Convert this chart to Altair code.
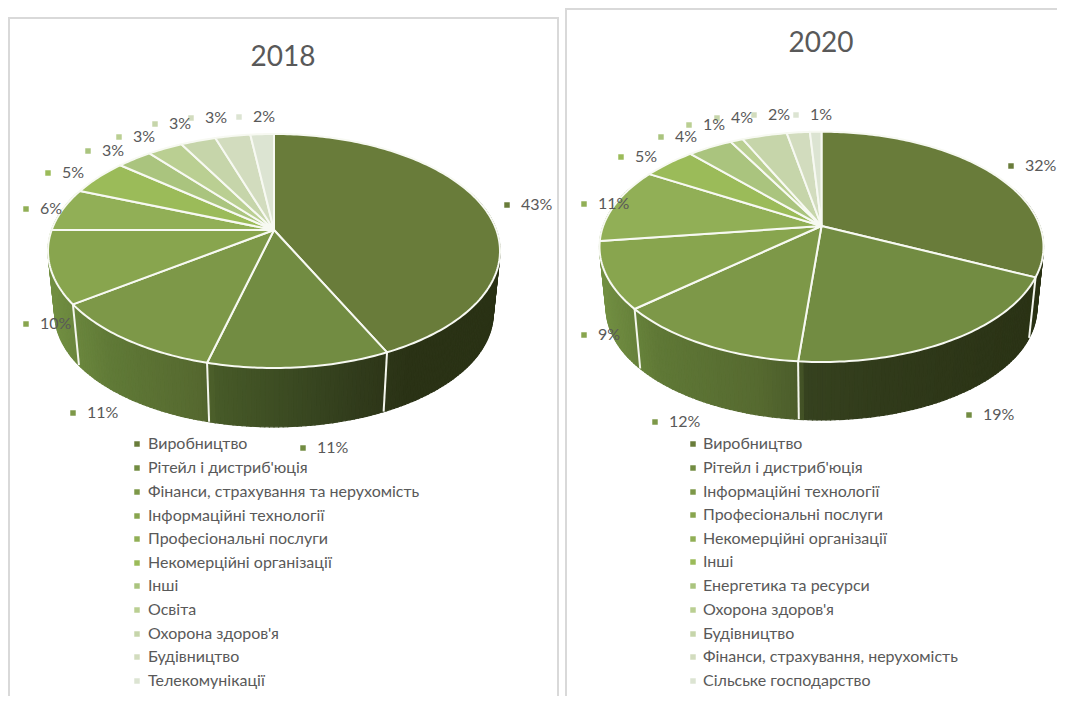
import math
import altair as alt
import pandas as pd

# ---------- values ----------
names_2018 = ["Виробництво", "Рітейл і дистриб'юція", "Фінанси, страхування та нерухомість",
              "Інформаційні технології", "Професіональні послуги", "Некомерційні організації",
              "Інші", "Освіта", "Охорона здоров'я", "Будівництво", "Телекомунікації"]
values_2018 = [43, 11, 11, 10, 6, 5, 3, 3, 3, 3, 2]
names_2020 = ["Виробництво", "Рітейл і дистриб'юція", "Інформаційні технології",
              "Професіональні послуги", "Некомерційні організації", "Інші",
              "Енергетика та ресурси", "Охорона здоров'я", "Будівництво",
              "Фінанси, страхування, нерухомість", "Сільське господарство"]
values_2020 = [32, 19.4, 12.2, 9.3, 10.6, 4.6, 3.9, 1.1, 3.9, 2, 1]

colors_2018 = ["#697c3a", "#728c42", "#7d9848", "#88a54e", "#91af56", "#9bbb59",
               "#aac47e", "#bacf92", "#c6d5aa", "#d2dcbe", "#dce4d2"]
colors_2020 = ["#697c3a", "#728c42", "#7d9848", "#88a54e", "#91af56", "#9bbb59",
               "#aac47e", "#bacf92", "#c6d5aa", "#d2dcbe", "#dce4d2"]

# ---------- layout (page pixels) ----------
OX, OY = 8, 8
W, H = 1049, 688
GREY = "#595959"
FONT = "Lato"
side_stops_2018 = [(-1.0, "#728f42"), (-0.74, "#607a37"), (-0.33, "#55682f"), (-0.26, "#475a28"),
                   (0.21, "#36431f"), (0.47, "#2e3719"), (0.6, "#2a3215"), (1.0, "#2a3215")]
side_stops_2020 = [(-1.0, "#728f42"), (-0.74, "#5f7836"), (-0.3, "#566a30"), (-0.1, "#4b5c2b"),
                   (-0.085, "#36421f"), (0.3, "#303a1a"), (1.0, "#2a3215")]

pie_2018 = dict(cx=274, cy=230, up=96, down=138, rx=226, depth_dy=63, depth_s=0.97)
pie_2020 = dict(cx=821.5, cy=226, up=94.3, down=136, rx=222, depth_dy=62, depth_s=0.97)

label_xy_2018 = [(521, 205), (317, 448), (87, 413), (40, 324), (40, 209), (62, 173),
                 (102, 151), (133, 137), (169, 124), (205, 118), (253, 117)]
label_xy_2020 = [(1025, 166), (983, 415), (669, 422), (598, 335), (598, 204), (635, 157),
                 (675, 137), (703, 125), (731, 118), (768, 115), (810, 115)]
legend_ys_2018 = [444, 468, 492, 516, 539, 563, 586, 610, 634, 657, 681]
legend_ys_2020 = [444, 468, 492, 515, 539, 562, 586, 610, 634, 657, 681]


def hex2rgb(h):
    return [int(h[i:i + 2], 16) for i in (1, 3, 5)]


def side_color(t, stops):
    for (a, ca), (b, cb) in zip(stops, stops[1:]):
        if t <= b:
            f = max(0, (t - a) / (b - a))
            ra, rb = hex2rgb(ca), hex2rgb(cb)
            return "#%02x%02x%02x" % tuple(round(x + (y - x) * f) for x, y in zip(ra, rb))
    return stops[-1][1]


def loc(x, y):
    return [x - OX, y - OY]


def projector(p):
    c = (p["up"] - p["down"]) / (p["up"] + p["down"])
    b = p["up"] * (1 - c)
    k = p["rx"] * math.sqrt(1 - c * c)

    def top(deg, s=1.0, dy=0.0):
        th = math.radians(deg)
        u, v = math.sin(th), -math.cos(th)
        d = 1 + c * v
        return p["cx"] + s * k * u / d, p["cy"] + dy + s * b * v / d
    return top


def feature(kind, coords, color):
    return {"type": "Feature", "properties": {"c": color},
            "geometry": {"type": kind, "coordinates": coords}}


def pie_features(values, colors, p, stops):
    pt = projector(p)
    total = sum(values)
    edges = [0]
    for v in values:
        edges.append(edges[-1] + v / total * 360)
    strips, seams, slices = [], [], []
    # the wall: thin strips between the top rim and the lower rim, front half only
    step = 1.0
    deg = 70.0
    while deg < 290:
        a = pt(deg)
        a2 = pt(deg + step)
        b2 = pt(deg + step, p["depth_s"], p["depth_dy"])
        b1 = pt(deg, p["depth_s"], p["depth_dy"])
        t = ((a[0] + a2[0]) / 2 - p["cx"]) / p["rx"]
        ring = [loc(*q) for q in (a, a2, b2, b1, a)]
        strips.append(feature("Polygon", [ring], side_color(t, stops)))
        deg += step
    for e in edges[1:-1]:
        if 90 < e < 255:
            seams.append(feature("LineString",
                                 [loc(*pt(e)), loc(*pt(e, p["depth_s"], p["depth_dy"]))], "white"))
    for i, col in enumerate(colors):
        n = max(2, int(edges[i + 1] - edges[i]) + 1)
        rim = [pt(edges[i] + (edges[i + 1] - edges[i]) * j / n) for j in range(n + 1)]
        ring = [loc(p["cx"], p["cy"])] + [loc(*q) for q in rim] + [loc(p["cx"], p["cy"])]
        slices.append(feature("Polygon", [ring], col))
    return strips, seams, slices


def label_table(values, colors, xy):
    return pd.DataFrame({"lon": [a - OX for a, _ in xy], "lat": [b - OY for _, b in xy],
                         "sq": [a - 14 - OX for a, _ in xy], "t": [f"{round(v)}%" for v in values],
                         "c": colors})


def legend_table(names, colors, ys, xt, xs):
    return pd.DataFrame({"lon": [xt - OX] * len(names), "sq": [xs - OX] * len(names),
                         "lat": [y - OY for y in ys], "t": names, "c": colors})


proj = alt.Projection(type="identity", scale=1, translate=[0, 0])
lonlat = dict(longitude=alt.Longitude("lon:Q"), latitude=alt.Latitude("lat:Q"))


def shape(feats, **mk):
    return alt.Chart(alt.Data(values=feats)).mark_geoshape(**mk)


layers = []

# frames of the two chart panels
frames = [feature("LineString", [loc(9, 696), loc(9, 18), loc(558, 18), loc(558, 696)], "#d9d9d9"),
          feature("LineString", [loc(566, 696), loc(566, 9), loc(1057, 9)], "#d9d9d9")]
layers.append(shape(frames, filled=False, strokeWidth=2).encode(
    stroke=alt.Color("properties.c:N", scale=None)))

for values, colors, p, stops, lab_xy in [
    (values_2018, colors_2018, pie_2018, side_stops_2018, label_xy_2018),
    (values_2020, colors_2020, pie_2020, side_stops_2020, label_xy_2020),
]:
    strips, seams, slices = pie_features(values, colors, p, stops)
    layers.append(shape(strips, strokeWidth=1.2).encode(
        color=alt.Color("properties.c:N", scale=None),
        stroke=alt.Stroke("properties.c:N", scale=None)))
    layers.append(shape(seams, filled=False, strokeWidth=2, stroke="#f4f6ee"))
    layers.append(shape(slices, stroke="#f7f9f2", strokeWidth=2, strokeJoin="round").encode(
        color=alt.Color("properties.c:N", scale=None)))
    lt = label_table(values, colors, lab_xy)
    layers.append(alt.Chart(lt).mark_square(size=30, opacity=1, filled=True).encode(
        longitude="sq:Q", latitude="lat:Q", color=alt.Color("c:N", scale=None)))
    layers.append(alt.Chart(lt).mark_text(align="left", baseline="middle", font=FONT, fontSize=16,
                                          color=GREY).encode(text="t:N", **lonlat))

for names, colors, ys, xt, xs in [
    (names_2018, colors_2018, legend_ys_2018, 148, 137),
    (names_2020, colors_2020, legend_ys_2020, 703, 693),
]:
    lg = legend_table(names, colors, ys, xt, xs)
    layers.append(alt.Chart(lg).mark_square(size=30, opacity=1, filled=True).encode(
        longitude="sq:Q", latitude="lat:Q", color=alt.Color("c:N", scale=None)))
    layers.append(alt.Chart(lg).mark_text(align="left", baseline="middle", font=FONT, fontSize=16,
                                          color=GREY).encode(text="t:N", **lonlat))

titles = pd.DataFrame({"lon": [283 - OX, 821 - OX], "lat": [58 - OY, 44 - OY], "t": ["2018", "2020"]})
layers.append(alt.Chart(titles).mark_text(align="center", baseline="middle", font=FONT, fontSize=28,
                                          color=GREY).encode(text="t:N", **lonlat))

chart = alt.layer(*layers).properties(
    width=W, height=H, projection=proj, padding=0, background="white"
).configure_view(stroke=None)

chart.save("out.html", embed_options={"renderer": "svg", "actions": False})
